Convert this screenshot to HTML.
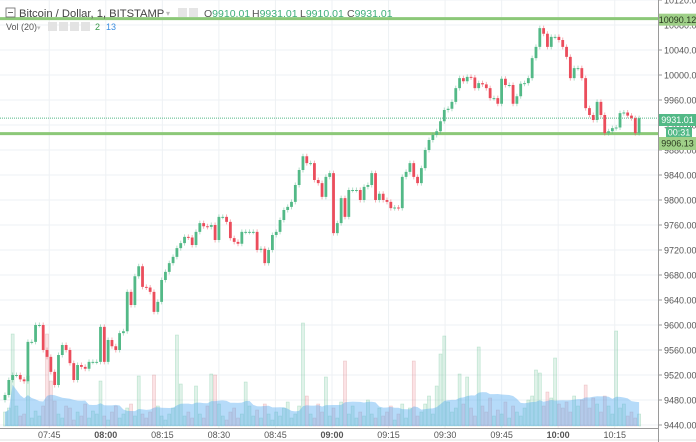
<!DOCTYPE html>
<html><head><meta charset="utf-8"><style>
html,body{margin:0;padding:0;background:#fff;}
body{width:696px;height:442px;overflow:hidden;position:relative;font-family:"Liberation Sans",sans-serif;}
svg{position:absolute;left:0;top:0;}
</style></head><body>
<svg id="chart" width="696" height="442"></svg>
<script>
const closes=[9488,9512,9520,9520,9513,9510,9573,9573,9600,9600,9560,
9549,9525,9504,9552,9568,9560,9539,9512,9536,9533,9530,9541,9541,
9541,9597,9541,9576,9566,9560,9587,9590,9653,9632,9678,9694,9661,9660,9653,9621,9637,9672,
9685,9699,9709,9723,9731,9741,9740,9728,9749,9763,9758,9757,9760,9736,9773,9773,9765,9739,9733,9730,9749,9749,9749,9749,9720,9722,9699,9720,9744,9749,9768,9784,9789,9797,9824,9848,
9870,9859,9859,9832,9827,9805,9837,9843,9747,9763,9803,9773,9816,9816,9816,9800,9821,9824,9843,9800,9810,9800,9797,9787,9788,9787,9837,9845,9859,9837,9827,9851,9880,9896,
9904,9910,9926,9944,9946,9957,9979,9995,9990,9997,9996,9979,9987,9985,9979,9963,9963,9954,9994,9984,9984,9954,9966,9986,9987,9995,10027,10045,10075,10066,10045,10061,10061,10056,10045,10029,9995,10011,10011,9995,9947,9936,9928,9957,9936,9907,9910,9915,9916,9939,9940,9935,9931,9907,9931];
const firstOpen=9480;
const volumes=[14,18,92,20,10,12,50,8,15,10,20,92,45,25,12,8,20,18,6,14,10,22,8,15,12,45,10,6,14,20,8,12,18,22,10,50,12,8,14,51,20,10,6,12,18,91,42,10,14,8,40,12,8,20,52,51,22,10,6,14,18,8,12,44,20,10,16,8,22,12,6,14,10,18,24,8,12,20,103,30,12,8,22,14,49,10,18,8,24,65,12,20,8,14,10,26,12,8,18,10,14,20,6,12,22,8,18,65,10,14,22,30,12,40,72,90,24,14,18,52,22,49,18,10,79,20,14,28,10,16,12,24,8,20,14,10,18,26,30,56,53,20,34,28,68,22,18,24,14,30,20,26,41,18,28,22,14,30,20,12,95,18,22,10,14,8,12];
const priceTicks=[10120,10080,10040,10000,9960,9920,9880,9840,9800,9760,9720,9680,9640,9600,9560,9520,9480,9440];
const timeLabels=["07:45","08:00","08:15","08:30","08:45","09:00","09:15","09:30","09:45","10:00","10:15"];
const timeLabelMinutes=[12,27,42,57,72,87,102,117,132,147,162];
const boldTimes=["08:00","09:00","10:00"];
const supportLevels=[10090.12,9906.13];
const lastPrice=9931.01;

const NS="http://www.w3.org/2000/svg";
const svg=document.getElementById('chart');
const PW=658;
function yP(p){return 425-(p-9440)*0.625;}
function xI(i){return 5+i*3.82;}
function xM(m){return 4+m*3.77;}
function yV(v){return 426-v;}
function mk(tag,attrs,parent){const e=document.createElementNS(NS,tag);for(const k in attrs)e.setAttribute(k,attrs[k]);(parent||svg).appendChild(e);return e;}

const grid=mk('g',{});


priceTicks.forEach(p=>{mk('line',{x1:0,x2:PW,y1:yP(p),y2:yP(p),stroke:'#eef1f4','stroke-width':1},grid);});
timeLabelMinutes.forEach(m=>{mk('line',{x1:xM(m),x2:xM(m),y1:0,y2:428,stroke:'#eef1f4','stroke-width':1},grid);});

const volG=mk('g',{});


closes.forEach((c,i)=>{
  const o=i===0?firstOpen:closes[i-1];
  const up=c>=o;
  const b=mk('rect',{x:xI(i)-1.5,y:yV(volumes[i]),width:3,height:volumes[i],fill:up?'rgba(83,185,135,0.18)':'rgba(235,77,92,0.16)',stroke:up?'rgba(83,185,135,0.35)':'rgba(200,120,120,0.35)','stroke-width':0.6},volG);
  
  
});
let pts=[];
for(let i=0;i<volumes.length;i++){let s=0,n=0;for(let j=Math.max(0,i-19);j<=i;j++){s+=volumes[j];n++;}pts.push([xI(i),yV(s/n)]);}
let d='M'+xI(0)+',426 '+pts.map(p=>'L'+p[0].toFixed(1)+','+p[1].toFixed(1)).join(' ')+' L'+xI(volumes.length-1)+',426 Z';
const ma=mk('path',{d:d,fill:'rgba(80,170,240,0.42)',stroke:'none'});



supportLevels.forEach(p=>{
  const l=mk('line',{x1:0,x2:PW,y1:yP(p),y2:yP(p),stroke:'#8cc878','stroke-width':3});
  
  
});
const lp=mk('line',{x1:0,x2:PW,y1:yP(lastPrice),y2:yP(lastPrice),stroke:'#53b987','stroke-width':1,'stroke-dasharray':'1,1'});



const cG=mk('g',{});


closes.forEach((c,i)=>{
  const o=i===0?firstOpen:closes[i-1];
  const up=c>=o;
  const col=up?'#53b987':'#eb4d5c';
  const x=xI(i);
  const hi=Math.max(o,c)+4, lo=Math.min(o,c)-4;
  const w=mk('line',{x1:x,x2:x,y1:yP(hi),y2:yP(lo),stroke:up?'rgba(83,185,135,0.45)':'rgba(235,77,92,0.45)','stroke-width':1},cG);
  
  
  const top=yP(Math.max(o,c)),h=Math.max(1,yP(Math.min(o,c))-top);
  const r=mk('rect',{x:x-1.4,y:top,width:2.8,height:h,fill:col},cG);
  
  
});

const ax=mk('g',{});


mk('line',{x1:PW+0.5,x2:PW+0.5,y1:0,y2:442,stroke:'#9a9a9a','stroke-width':1},ax);
priceTicks.forEach(p=>{
  mk('line',{x1:PW,x2:PW+4,y1:yP(p),y2:yP(p),stroke:'#9a9a9a'},ax);
  const t=mk('text',{x:664,y:yP(p)+3.5,'font-size':'9',fill:'#555'},ax);t.textContent=p.toFixed(2);
  
  
});
const tx=mk('g',{});


mk('line',{x1:0,x2:PW,y1:428.5,y2:428.5,stroke:'#9a9a9a'},tx);
mk('rect',{x:0,y:429,width:696,height:13,fill:'#fff'},tx);
mk('line',{x1:0,x2:696,y1:440,y2:440,stroke:'#e0e0e0'},tx);
mk('line',{x1:PW+0.5,x2:PW+0.5,y1:428,y2:442,stroke:'#9a9a9a'},tx);
timeLabels.forEach((s,k)=>{
  const t=mk('text',{x:xM(timeLabelMinutes[k]),y:438,'font-size':'9',fill:'#555','text-anchor':'middle','font-weight':boldTimes.includes(s)?'bold':'normal'},tx);
  t.textContent=s;
  
  
});

function label(y,h,bg,fg,txt,name,x,w){
  const g=mk('g',{});
  
  
  mk('rect',{x:x||659,y:y,width:w||37,height:h,fill:bg},g);
  const t=mk('text',{x:(x||659)+(w||37)/2,y:y+h/2+3.2,'font-size':'9','text-anchor':'middle',fill:fg},g);t.textContent=txt;
}
label(yP(10090.12)-5,12,'#9fd088','#2b3a20','10090.12','support-price-label-top');
label(114,12,'#53b987','#fff','9931.01','last-price-label');
label(127,11,'#53b987','#fff','00:31','countdown-label',666,26);
label(137,13,'#9fd088','#2b3a20','9906.13','support-price-label-bottom');

const hd=mk('g',{});


mk('rect',{x:6,y:8,width:9,height:9,fill:'none',stroke:'#666','stroke-width':0.8},hd);
mk('line',{x1:8,x2:13,y1:12.5,y2:12.5,stroke:'#666'},hd);
let t=mk('text',{x:19,y:17,'font-size':'11.2',fill:'#444'},hd);t.textContent='Bitcoin / Dollar, 1, BITSTAMP';


mk('text',{x:166,y:16,'font-size':'8',fill:'#bbb'},hd).textContent='▾';
mk('rect',{x:178,y:8,width:9,height:9,fill:'#e5e5e5'},hd);
mk('rect',{x:189,y:8,width:9,height:9,fill:'#e5e5e5'},hd);
const ohlc=[['O','9910.01',204],['H','9931.01',252],['L','9910.01',300],['C','9931.01',347]];
ohlc.forEach(a=>{const e=mk('text',{x:a[2],y:17,'font-size':'10.5',fill:'#555'},hd);
  e.innerHTML=a[0]+'<tspan fill="#3fae7a">'+a[1]+'</tspan>';});
t=mk('text',{x:6,y:30,'font-size':'9',fill:'#555'},hd);t.textContent='Vol (20)';
mk('text',{x:37,y:30,'font-size':'7',fill:'#bbb'},hd).textContent='▾';
[48,59,70,81].forEach(x=>mk('rect',{x:x,y:22,width:9,height:9,fill:'#e3e3e3'},hd));
mk('text',{x:95,y:30,'font-size':'9',fill:'#3a9a4a'},hd).textContent='2';
mk('text',{x:106,y:30,'font-size':'9',fill:'#3a8ee0'},hd).textContent='13';
</script>
</body></html>
